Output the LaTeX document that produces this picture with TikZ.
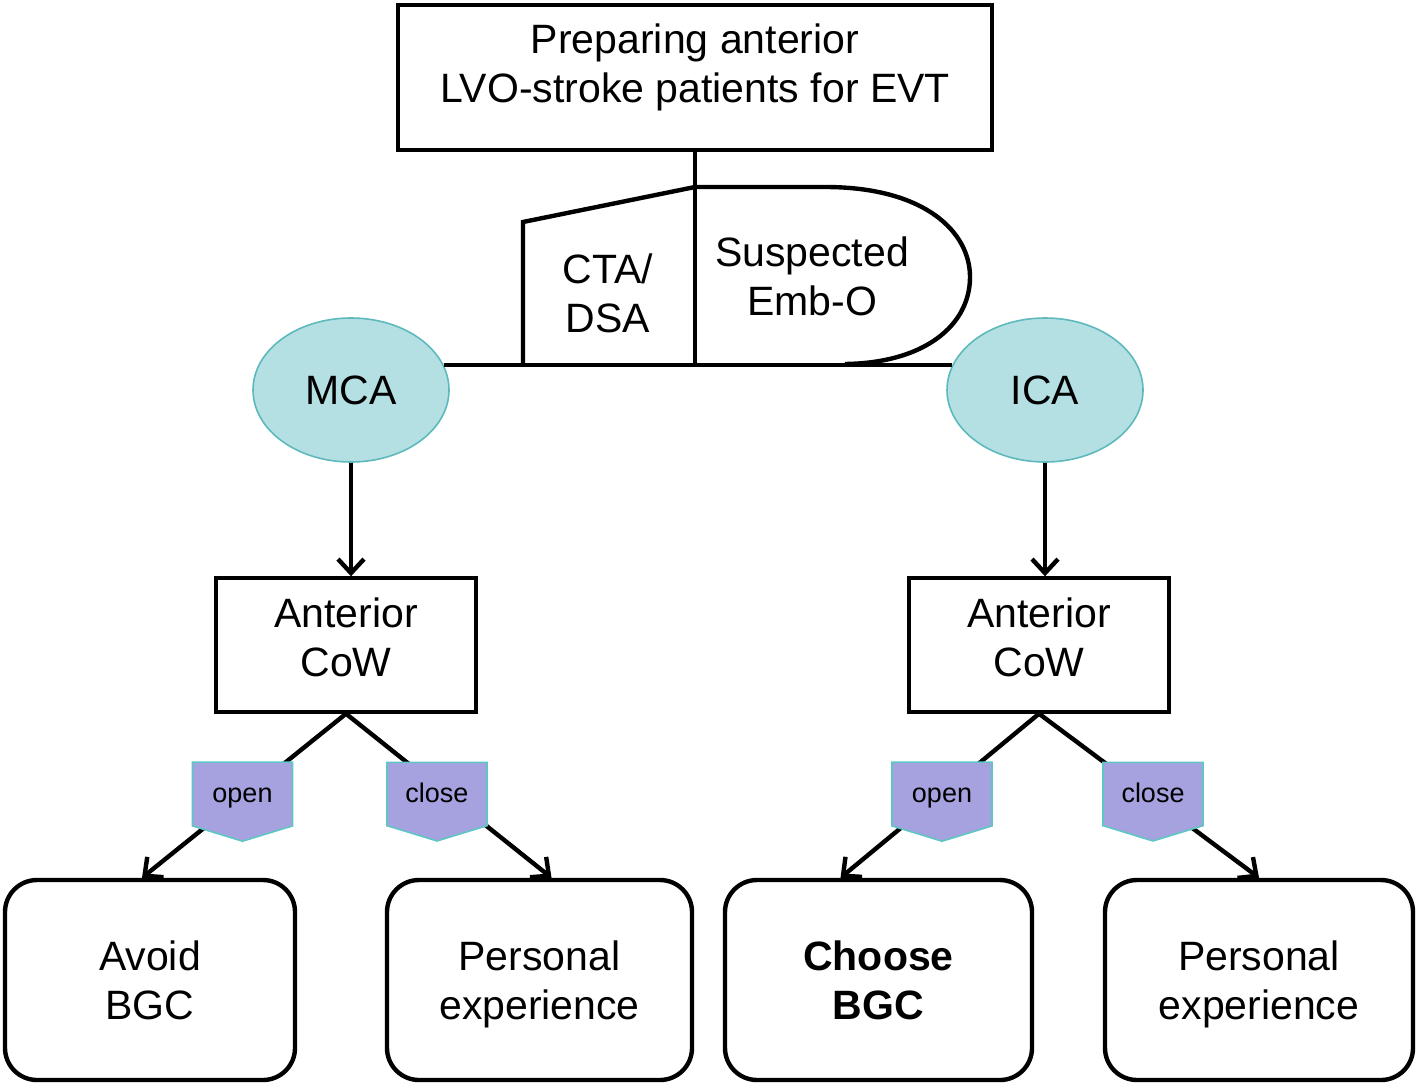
\documentclass[tikz,border=0pt]{standalone}
\usepackage{fontspec}
\setmainfont{Liberation Sans}
\usepackage{tikz}
\usetikzlibrary{positioning, calc, shapes, shapes.symbols, arrows.meta}

\definecolor{arteryfill}{HTML}{B4E0E4}
\definecolor{arteryline}{HTML}{5DB9BC}
\definecolor{tagfill}{HTML}{A6A2DF}
\definecolor{tagline}{HTML}{5EC6C4}

\tikzset{
	every node/.style={align=center, font=\fontsize{20.5}{24.5}\selectfont},
	box/.style={draw, line width=1.7pt, inner sep=0pt},
	endbox/.style={draw, line width=2.2pt, rounded corners=16pt, minimum width=150pt, minimum height=100pt, inner sep=0pt, text depth=0pt},
	artery/.style={ellipse, draw=arteryline, fill=arteryfill, line width=0.8pt, minimum width=98pt, minimum height=72pt},
	tag/.style={signal, signal to=south, signal pointer angle=146, draw=tagline, fill=tagfill, line width=0.8pt, minimum width=50pt, minimum height=36.5pt, inner sep=0pt, text height=1.05em, text depth=0.22em, font=\fontsize{13.5}{16}\selectfont},
	link/.style={line width=2.2pt},
	arrow/.style={line width=2.2pt, -{Straight Barb[length=7pt, width=13pt, line width=2.2pt]}}
}

\begin{document}
\begin{tikzpicture}[x=0.5pt, y=-0.5pt]
			\useasboundingbox (0,0) rectangle (1417,1086);
			
			\node[box, minimum width=297pt, minimum height=72.5pt, text depth=14pt] (top) at (695,77.5) {Preparing anterior\\LVO-stroke patients for EVT};
			\node[artery] (mca) at (351,390) {MCA};
			\node[artery] (ica) at (1045,390) {ICA};
			\node[box, minimum width=130pt, minimum height=67pt, text depth=8pt] (cowl) at (346,645) {Anterior\\CoW};
			\node[box, minimum width=130pt, minimum height=67pt, text depth=8pt] (cowr) at (1039,645) {Anterior\\CoW};
			
			\node[endbox, minimum width=145pt] (avoid) at (150,980) {Avoid\\BGC};
			\node[endbox, minimum width=152.5pt] (persl) at (539.5,980) {Personal\\experience};
			\node[endbox, minimum width=153.5pt] (choose) at (878.5,980) {\textbf{Choose}\\\textbf{BGC}};
			\node[endbox, minimum width=154pt] (persr) at (1259,980) {Personal\\experience};
			
			% CTA/DSA and suspected Emb-O
			\coordinate (hub) at (695,365);
			\draw[link] (mca.15) -- (ica.165);
			\draw[link] (top.south) -- (hub);
			\draw[link] (523,365) -- (523,222) -- (695,187);
			\draw[link] (695,187) -- (825,187) .. controls (925,187) and (970,232) .. (970,277) .. controls (970,325) and (925,363) .. (845,364);
			\node (cta) at (608,293) {CTA/\\DSA};
			\node (emb) at (812,276) {Suspected\\Emb-O};
			
			\draw[arrow] (mca.south) -- (mca.south |- cowl.north);
			\draw[arrow] (ica.south) -- (ica.south |- cowr.north);
			
			\draw[arrow] (cowl.south) -- ([xshift=-4pt]avoid.north);
			\draw[arrow] (cowl.south) -- ([xshift=6pt]persl.north);
			\draw[arrow] (cowr.south) -- ([xshift=-19pt]choose.north);
			\draw[arrow] (cowr.south) -- (persr.north);
			
			\node[tag] (openl) at (242.5,794) {open};
			\node[tag] (closel) at (437,794) {close};
			\node[tag] (openr) at (942,794) {open};
			\node[tag] (closer) at (1153,794) {close};
		\end{tikzpicture}
\end{document}
